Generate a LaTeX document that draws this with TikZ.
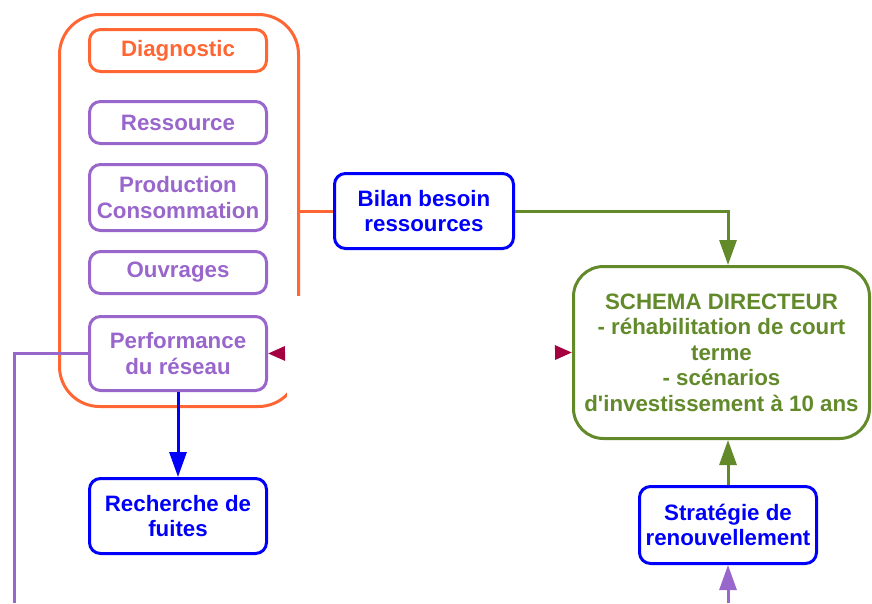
\documentclass[tikz,border=0pt]{standalone}
\usepackage{fontspec}
\setmainfont{Liberation Sans}
\usetikzlibrary{arrows.meta,calc}
\definecolor{orng}{RGB}{255,102,51}
\definecolor{purp}{RGB}{153,102,204}
\definecolor{blu}{RGB}{0,0,250}
\definecolor{grn}{RGB}{98,138,42}
\definecolor{crim}{RGB}{165,0,64}
\begin{document}
\begin{tikzpicture}[x=1pt,y=-1pt,
  bx/.style={draw=#1, text=#1, line width=3pt, rounded corners=11pt, inner sep=0pt,
    align=center, minimum width=177pt, font=\bfseries\fontsize{22.3}{25.5}\selectfont},
  link/.style={line width=3pt, draw=#1},
  tipx/.style={-{Triangle[length=25pt,width=17pt]}},
  redtip/.style={line width=3pt, white,
    {Triangle[length=17pt,width=14pt,color=crim]}-{Triangle[length=17pt,width=14pt,color=crim]}}]
\useasboundingbox (0,0) rectangle (872,603);
% container
\node[draw=orng, line width=3pt, rounded corners=40pt, minimum width=239pt,
  minimum height=392pt, inner sep=0pt] (grp) at (179,210.5) {};
\fill[white] (287,296) rectangle (312,420);
% nodes
\node[bx=orng, minimum height=42pt] (diag) at (178,50.5) {Diagnostic};
\node[bx=purp, minimum height=42pt] (res) at (178,122.5) {Ressource};
\node[bx=purp, minimum height=66pt] (prod) at (178,197.5) {Production\\Consommation};
\node[bx=purp, minimum height=42pt] (ouv) at (178,272.5) {Ouvrages};
\node[bx=purp, minimum height=74pt] (perf) at (178,353.5) {Performance\\du réseau};
\node[bx=blu, minimum height=75pt] (rech) at (178,516) {Recherche de\\fuites};
\node[bx=blu, minimum width=179pt, minimum height=75pt] (bilan) at (424,211) {Bilan besoin\\ressources};
\node[bx=grn, minimum width=296pt, minimum height=172pt, rounded corners=30pt] (schema) at (721.5,352.5)
  {SCHEMA DIRECTEUR\\- réhabilitation de court\\terme\\- scénarios\\d\textquotesingle investissement à 10 ans};
\node[bx=blu, minimum height=77pt] (strat) at (728,525) {Stratégie de\\renouvellement};
% connectors
\coordinate (lb) at (14,603);
\coordinate (rb) at (728,603);
\draw[link=orng] (grp.east |- bilan.west) -- (bilan.west);
\draw[link=grn, tipx] (bilan.east) -| (strat.north |- schema.north);
\draw[link=grn, tipx] (strat.north) -- (strat.north |- schema.south);
\draw[link=blu, tipx] (perf.south) -- (rech.north);
\draw[link=purp] (perf.west) -| (lb);
\draw[link=purp, tipx] (rb) -- (strat.south);
\draw[redtip] (perf.east) -- (schema.west);
\end{tikzpicture}
\end{document}
